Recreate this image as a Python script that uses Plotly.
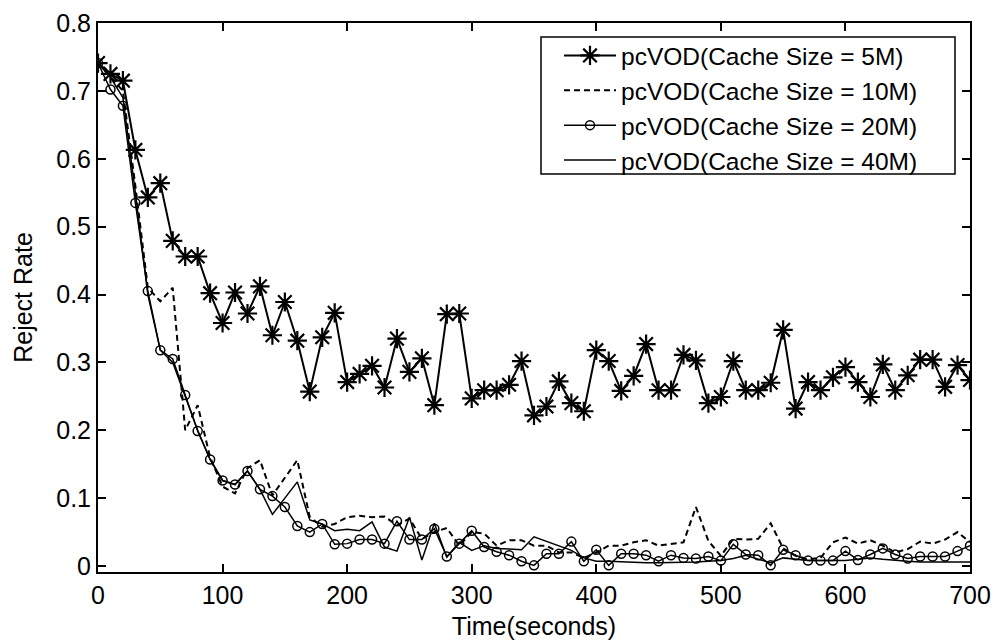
import plotly.graph_objects as go

time_s = [0, 10, 20, 30, 40, 50, 60, 70, 80, 90, 100, 110, 120, 130, 140, 150, 160, 170, 180, 190,
          200, 210, 220, 230, 240, 250, 260, 270, 280, 290, 300, 310, 320, 330, 340, 350, 360, 370, 380, 390,
          400, 410, 420, 430, 440, 450, 460, 470, 480, 490, 500, 510, 520, 530, 540, 550, 560, 570, 580, 590,
          600, 610, 620, 630, 640, 650, 660, 670, 680, 690, 700]

cache_5m = [0.741, 0.725, 0.715, 0.613, 0.543, 0.564, 0.479, 0.456, 0.456, 0.402,
            0.358, 0.403, 0.372, 0.412, 0.340, 0.389, 0.332, 0.257, 0.337, 0.373,
            0.271, 0.283, 0.295, 0.263, 0.335, 0.286, 0.306, 0.237, 0.371, 0.372,
            0.247, 0.259, 0.259, 0.267, 0.302, 0.222, 0.235, 0.272, 0.240, 0.228,
            0.318, 0.302, 0.258, 0.280, 0.327, 0.259, 0.259, 0.311, 0.303, 0.240,
            0.249, 0.302, 0.259, 0.259, 0.270, 0.348, 0.232, 0.271, 0.259, 0.278,
            0.293, 0.271, 0.249, 0.297, 0.259, 0.281, 0.304, 0.304, 0.264, 0.296,
            0.274]

cache_10m = [0.741, 0.720, 0.700, 0.560, 0.410, 0.390, 0.410, 0.200, 0.237, 0.160,
             0.117, 0.107, 0.144, 0.156, 0.104, 0.130, 0.156, 0.072, 0.058, 0.062,
             0.072, 0.074, 0.072, 0.073, 0.060, 0.070, 0.040, 0.050, 0.056, 0.030,
             0.050, 0.048, 0.030, 0.038, 0.038, 0.030, 0.030, 0.020, 0.020, 0.012,
             0.020, 0.030, 0.030, 0.035, 0.038, 0.030, 0.033, 0.035, 0.087, 0.037,
             0.015, 0.040, 0.039, 0.040, 0.063, 0.026, 0.015, 0.010, 0.012, 0.035,
             0.042, 0.033, 0.038, 0.030, 0.020, 0.025, 0.036, 0.033, 0.039, 0.050,
             0.035]

cache_20m = [0.741, 0.702, 0.678, 0.535, 0.405, 0.318, 0.305, 0.252, 0.199, 0.157,
             0.126, 0.120, 0.140, 0.113, 0.103, 0.087, 0.059, 0.050, 0.062, 0.032,
             0.033, 0.039, 0.039, 0.033, 0.066, 0.039, 0.039, 0.055, 0.014, 0.033,
             0.052, 0.028, 0.021, 0.016, 0.007, 0.001, 0.018, 0.018, 0.036, 0.007,
             0.024, 0.001, 0.018, 0.018, 0.016, 0.007, 0.016, 0.012, 0.011, 0.014,
             0.008, 0.032, 0.017, 0.016, 0.001, 0.024, 0.016, 0.008, 0.008, 0.008,
             0.022, 0.009, 0.017, 0.026, 0.017, 0.011, 0.014, 0.014, 0.014, 0.022,
             0.030]

cache_40m = [0.741, 0.720, 0.690, 0.550, 0.400, 0.318, 0.300, 0.250, 0.200, 0.157,
             0.126, 0.120, 0.140, 0.113, 0.076, 0.100, 0.124, 0.068, 0.062, 0.052,
             0.054, 0.052, 0.065, 0.028, 0.022, 0.072, 0.009, 0.063, 0.013, 0.035,
             0.023, 0.030, 0.026, 0.025, 0.024, 0.043, 0.036, 0.030, 0.023, 0.012,
             0.007, 0.007, 0.006, 0.005, 0.005, 0.005, 0.005, 0.005, 0.006, 0.007,
             0.008, 0.011, 0.016, 0.010, 0.005, 0.012, 0.010, 0.008, 0.008, 0.008,
             0.008, 0.010, 0.012, 0.010, 0.008, 0.007, 0.006, 0.006, 0.006, 0.006,
             0.006]

names = ["pcVOD(Cache Size = 5M)", "pcVOD(Cache Size = 10M)",
         "pcVOD(Cache Size = 20M)", "pcVOD(Cache Size = 40M)"]

y_ticks = [0, 0.1, 0.2, 0.3, 0.4, 0.5, 0.6, 0.7, 0.8]
y_ticktext = ["0", "0.1", "0.2", "0.3", "0.4", "0.5", "0.6", "0.7", "0.8"]
x_ticks = [0, 100, 200, 300, 400, 500, 600, 700]

FONT = "Liberation Sans, Arial, sans-serif"
FS = 25

fig = go.Figure()
fig.add_trace(go.Scatter(
    x=time_s, y=cache_5m, name=names[0], mode="lines+markers",
    line=dict(color="black", width=2),
    marker=dict(symbol="asterisk-open", size=16, color="black", line=dict(color="black", width=2.2)),
))
fig.add_trace(go.Scatter(
    x=time_s, y=cache_10m, name=names[1], mode="lines",
    line=dict(color="black", width=2, dash="6px,4px"),
))
fig.add_trace(go.Scatter(
    x=time_s, y=cache_20m, name=names[2], mode="lines+markers",
    line=dict(color="black", width=1.5),
    marker=dict(symbol="circle-open", size=9, color="black", line=dict(color="black", width=1.5)),
))
fig.add_trace(go.Scatter(
    x=time_s, y=cache_40m, name=names[3], mode="lines",
    line=dict(color="black", width=1.5),
))

axis_common = dict(
    showgrid=False, zeroline=False,
    showline=True, linecolor="black", linewidth=2, mirror="ticks",
    ticks="inside", ticklen=8, tickwidth=1.5, tickcolor="black",
    tickfont=dict(family=FONT, size=FS, color="black"),
)

# legend frame (paper coordinates of the plot area)
fig.add_shape(
    type="rect", xref="paper", yref="paper",
    x0=(541 - 98) / 872, x1=(955 - 98) / 872,
    y0=(572 - 174) / 549, y1=(572 - 37) / 549,
    line=dict(color="black", width=1.5), fillcolor="white", layer="above",
)

fig.update_layout(
    width=995, height=640,
    margin=dict(l=98, r=25, t=23, b=68),
    paper_bgcolor="white", plot_bgcolor="white",
    font=dict(family=FONT, size=FS, color="black"),
    showlegend=True,
    legend=dict(
        x=(559 - 98) / 872, y=(572 - 33) / 549, xanchor="left", yanchor="top",
        bgcolor="rgba(0,0,0,0)", borderwidth=0,
        font=dict(family=FONT, size=24.5, color="black"),
        itemwidth=52, tracegroupgap=0,
    ),
    xaxis=dict(
        range=[0, 700], tickvals=x_ticks,
        title=dict(text="Time(seconds)", font=dict(family=FONT, size=FS), standoff=10),
        **axis_common,
    ),
    yaxis=dict(
        range=[-0.0088, 0.8], tickvals=y_ticks, ticktext=y_ticktext,
        title=dict(text="Reject Rate", font=dict(family=FONT, size=FS), standoff=16),
        **axis_common,
    ),
)
fig.update_xaxes(automargin=False)
fig.update_yaxes(automargin=False)

fig.write_html("out.html")
